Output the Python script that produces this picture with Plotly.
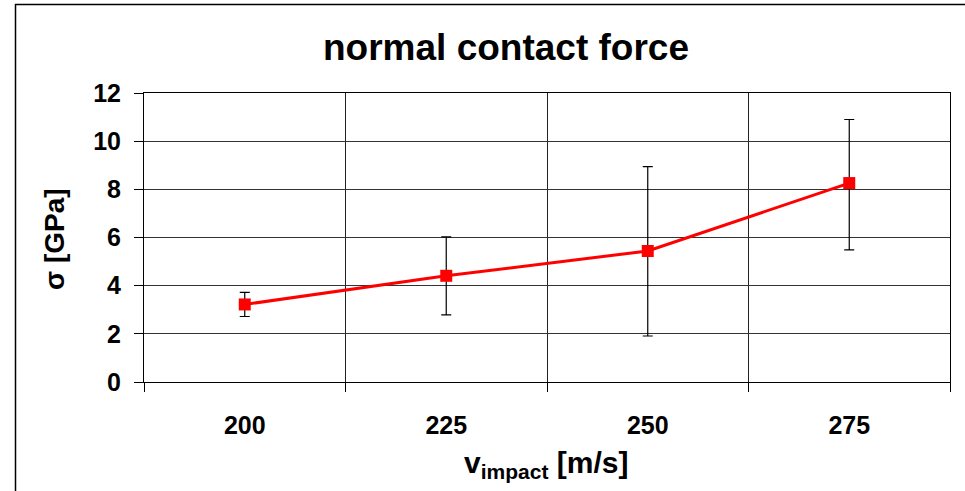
import plotly.graph_objects as go

# Impact velocity categories and measured normal contact stress
velocity = ["200", "225", "250", "275"]
sigma = [3.22, 4.41, 5.44, 8.26]
err_plus = [0.50, 1.62, 3.50, 2.64]
err_minus = [0.50, 1.62, 3.53, 2.77]
y_ticks = [0, 2, 4, 6, 8, 10, 12]

W, H = 965, 491
L, R, T, B = 144, 15, 93, 109
pw, ph = W - L - R, H - T - B

FONT = "Liberation Sans, Arial, sans-serif"
TICKFONT = dict(size=25, family=FONT, color="black", weight="bold")

fig = go.Figure()
fig.add_trace(go.Scatter(
    x=velocity, y=sigma,
    mode="lines+markers",
    line=dict(color="#ff0000", width=3),
    marker=dict(symbol="square", size=12, color="#ff0000"),
    error_y=dict(type="data", symmetric=False, array=err_plus, arrayminus=err_minus,
                 color="black", thickness=1.2, width=5),
    showlegend=False,
))

fig.update_layout(
    width=W, height=H,
    margin=dict(l=L, r=R, t=T, b=B),
    paper_bgcolor="white", plot_bgcolor="white",
    font=dict(family=FONT, color="black"),
    title=dict(text="<b>normal contact force</b>", x=506 / W, xanchor="center",
               y=1 - 47 / H, yanchor="middle", yref="container",
               font=dict(size=37, family=FONT, color="black")),
    xaxis=dict(
        type="category", range=[-0.5, 3.5], tickson="boundaries",
        showgrid=True, gridcolor="#222", gridwidth=1,
        ticks="outside", ticklen=9, tickcolor="black", tickwidth=1,
        showline=True, linecolor="black", linewidth=1, mirror=True,
        tickfont=TICKFONT, ticklabelstandoff=21,
        zeroline=False,
    ),
    yaxis=dict(
        range=[0, 12], tickvals=y_ticks,
        showgrid=True, gridcolor="#333", gridwidth=1,
        ticks="outside", ticklen=9, tickcolor="black", tickwidth=1,
        showline=True, linecolor="black", linewidth=1, mirror=True,
        tickfont=TICKFONT, ticklabelstandoff=8,
        zeroline=False,
    ),
    annotations=[
        dict(text="<b>σ [GPa]</b>", textangle=-90, xref="paper", yref="paper",
             x=(54 - L) / pw, y=(H - B - 239) / ph, xanchor="center", yanchor="middle",
             showarrow=False, font=dict(size=28, family=FONT, color="black")),
        dict(text="<b>v<sub>impact</sub> [m/s]</b>", xref="paper", yref="paper",
             x=(546 - L) / pw, y=(H - B - 464) / ph, xanchor="center", yanchor="middle",
             showarrow=False, font=dict(size=30, family=FONT, color="black")),
    ],
    shapes=[
        dict(type="rect", xref="paper", yref="paper",
             x0=(15.5 - L) / pw, x1=(W + 20 - L) / pw,
             y0=(H - B - H - 20) / ph, y1=(H - B - 4.5) / ph,
             line=dict(color="black", width=1.5), layer="below"),
    ],
)

fig.write_html("out.html")
